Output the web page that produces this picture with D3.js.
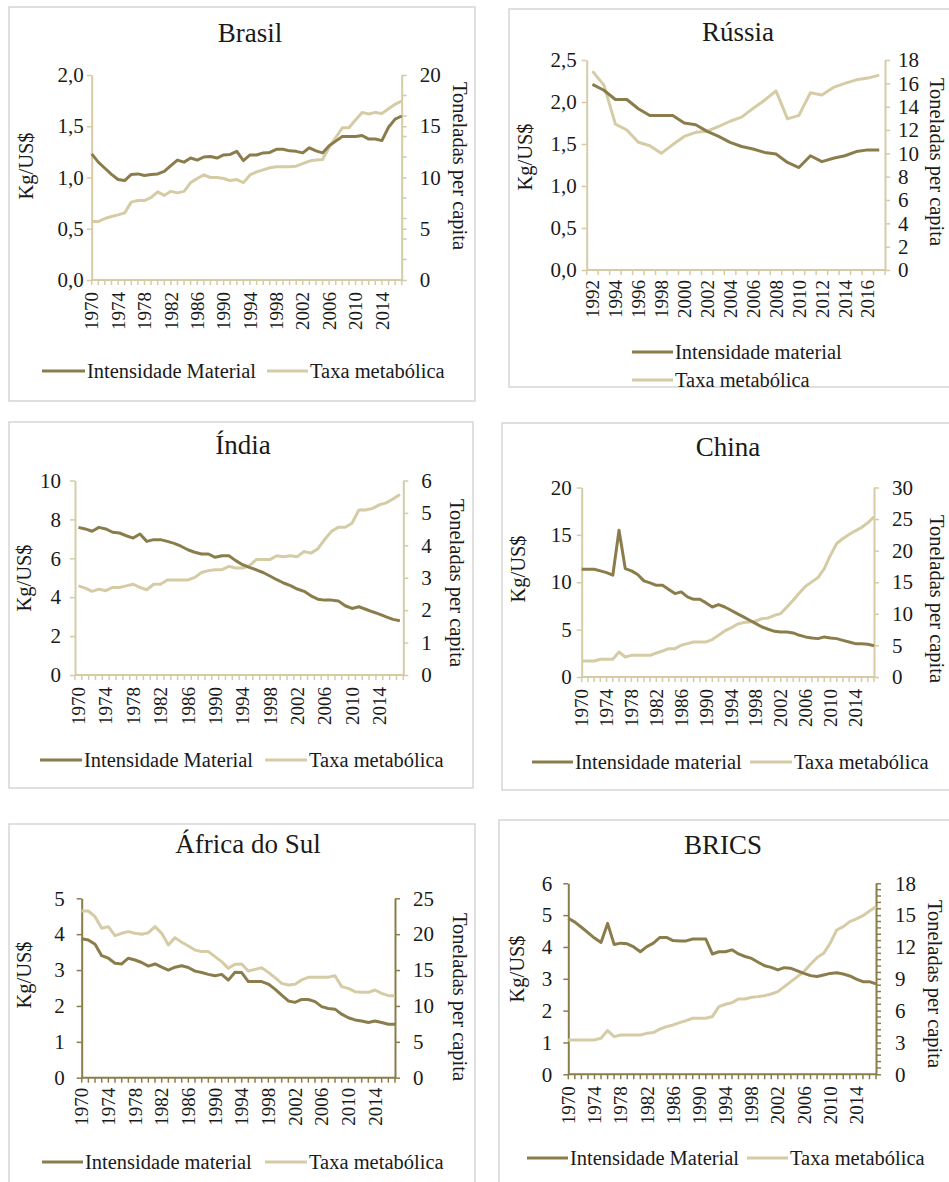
<!DOCTYPE html>
<html>
<head>
<meta charset="utf-8">
<script src="https://cdn.jsdelivr.net/npm/d3@7/dist/d3.min.js"></script>
<style>
  html, body { margin: 0; padding: 0; background: #fff; }
  svg { display: block; }
  text { font-family: "Liberation Serif", "Times New Roman", serif; fill: #1a1a1a; }
</style>
</head>
<body>
<script>
// ---------- data ----------
const years1970 = d3.range(1970, 2018);
const years1992 = d3.range(1992, 2018);

const brasilIntensidade = [1.23,1.15,1.09,1.03,0.98,0.97,1.03,1.035,1.02,1.03,1.035,1.06,1.115,1.17,1.15,1.19,1.17,1.20,1.205,1.19,1.22,1.225,1.255,1.165,1.22,1.22,1.24,1.245,1.275,1.275,1.26,1.255,1.24,1.29,1.26,1.24,1.31,1.355,1.40,1.40,1.40,1.41,1.375,1.375,1.36,1.49,1.57,1.60];
const brasilTaxa = [5.7,5.7,6.0,6.2,6.35,6.55,7.6,7.75,7.75,8.05,8.6,8.25,8.65,8.5,8.65,9.5,9.9,10.25,10.0,10.0,9.9,9.7,9.8,9.5,10.25,10.55,10.75,10.95,11.05,11.05,11.05,11.1,11.35,11.6,11.7,11.75,12.95,13.9,14.85,14.85,15.6,16.35,16.2,16.35,16.25,16.7,17.15,17.45];

const russiaIntensidade = [2.21,2.14,2.03,2.03,1.92,1.84,1.84,1.84,1.75,1.73,1.65,1.59,1.52,1.47,1.44,1.40,1.38,1.28,1.22,1.36,1.29,1.33,1.36,1.41,1.43,1.43];
const russiaTaxa = [17.05,15.85,12.5,12.0,10.95,10.65,10.0,10.75,11.45,11.8,11.9,12.3,12.75,13.1,13.85,14.55,15.35,12.95,13.25,15.2,15.0,15.65,16.0,16.3,16.45,16.7];

const indiaIntensidade = [7.59,7.51,7.39,7.59,7.51,7.34,7.30,7.16,7.04,7.25,6.87,6.96,6.96,6.87,6.77,6.62,6.44,6.31,6.22,6.22,6.05,6.13,6.13,5.88,5.67,5.53,5.41,5.27,5.09,4.90,4.73,4.59,4.42,4.30,4.07,3.90,3.85,3.85,3.81,3.56,3.42,3.51,3.38,3.25,3.13,2.99,2.86,2.79];
const indiaTaxa = [2.75,2.68,2.58,2.65,2.60,2.70,2.70,2.75,2.80,2.70,2.63,2.80,2.80,2.93,2.93,2.93,2.93,3.01,3.16,3.22,3.25,3.25,3.35,3.30,3.30,3.37,3.56,3.56,3.56,3.68,3.65,3.68,3.65,3.81,3.76,3.89,4.18,4.43,4.56,4.56,4.68,5.09,5.09,5.14,5.25,5.31,5.43,5.57];

const chinaIntensidade = [11.37,11.37,11.37,11.2,11.02,10.74,15.49,11.44,11.2,10.81,10.14,9.93,9.68,9.68,9.23,8.80,8.98,8.45,8.20,8.20,7.82,7.39,7.64,7.39,7.04,6.69,6.34,5.99,5.63,5.28,5.04,4.82,4.75,4.75,4.65,4.40,4.23,4.12,4.05,4.23,4.12,4.05,3.87,3.70,3.52,3.52,3.45,3.30];
const chinaTaxa = [2.54,2.54,2.54,2.80,2.80,2.80,3.96,3.17,3.43,3.43,3.43,3.43,3.80,4.12,4.49,4.49,5.02,5.28,5.55,5.55,5.55,5.92,6.60,7.29,7.77,8.35,8.61,8.72,8.87,9.24,9.35,9.77,10.04,11.09,12.15,13.31,14.37,15.06,15.74,17.17,19.28,21.13,21.92,22.56,23.14,23.67,24.41,25.36];

const africaIntensidade = [3.87,3.84,3.72,3.40,3.33,3.19,3.17,3.33,3.28,3.21,3.11,3.17,3.08,3.00,3.08,3.12,3.07,2.97,2.93,2.88,2.84,2.88,2.72,2.94,2.93,2.68,2.68,2.68,2.61,2.47,2.30,2.14,2.10,2.18,2.18,2.12,1.98,1.93,1.91,1.77,1.67,1.61,1.58,1.54,1.58,1.54,1.49,1.49];
const africaTaxa = [23.23,23.23,22.44,20.82,21.05,19.80,20.12,20.35,20.12,19.98,20.21,21.05,20.12,18.49,19.52,18.87,18.35,17.80,17.57,17.57,16.87,16.17,15.24,15.80,15.85,14.87,15.10,15.33,14.68,13.94,13.15,12.92,13.01,13.62,13.99,13.99,13.99,13.99,14.22,12.69,12.45,11.99,11.90,11.90,12.22,11.76,11.43,11.43];

const bricsIntensidade = [4.90,4.78,4.62,4.45,4.28,4.14,4.74,4.08,4.12,4.10,4.00,3.85,4.01,4.12,4.30,4.30,4.20,4.19,4.19,4.25,4.25,4.25,3.78,3.85,3.85,3.91,3.78,3.70,3.64,3.52,3.41,3.36,3.28,3.35,3.33,3.25,3.17,3.10,3.07,3.12,3.17,3.19,3.15,3.09,2.99,2.91,2.91,2.84];
const bricsTaxa = [3.24,3.24,3.24,3.24,3.24,3.40,4.12,3.55,3.71,3.71,3.71,3.71,3.86,3.93,4.27,4.49,4.65,4.87,5.06,5.28,5.28,5.28,5.44,6.38,6.60,6.75,7.10,7.10,7.26,7.32,7.41,7.57,7.79,8.26,8.73,9.21,9.68,10.37,11.0,11.40,12.35,13.60,13.92,14.39,14.64,14.95,15.39,15.80];

// axis tick values
const ticksBrasilLeft = [0, 0.5, 1.0, 1.5, 2.0];
const ticksBrasilRight = [0, 5, 10, 15, 20];
const ticksRussiaLeft = [0, 0.5, 1.0, 1.5, 2.0, 2.5];
const ticksRussiaRight = [0, 2, 4, 6, 8, 10, 12, 14, 16, 18];
const ticksIndiaLeft = [0, 2, 4, 6, 8, 10];
const ticksIndiaRight = [0, 1, 2, 3, 4, 5, 6];
const ticksChinaLeft = [0, 5, 10, 15, 20];
const ticksChinaRight = [0, 5, 10, 15, 20, 25, 30];
const ticksAfricaLeft = [0, 1, 2, 3, 4, 5];
const ticksAfricaRight = [0, 5, 10, 15, 20, 25];
const ticksBricsLeft = [0, 1, 2, 3, 4, 5, 6];
const ticksBricsRight = [0, 3, 6, 9, 12, 15, 18];

const labelYears1970 = [1970, 1974, 1978, 1982, 1986, 1990, 1994, 1998, 2002, 2006, 2010, 2014];
const labelYears1992 = [1992, 1994, 1996, 1998, 2000, 2002, 2004, 2006, 2008, 2010, 2012, 2014, 2016];

// ---------- styling ----------
const DARK = "#8b7d4b";
const LIGHT = "#d5cca6";
const FRAME = "#d6d6d6";
const SERIF = "'Liberation Serif', 'Times New Roman', serif";
const commaFmt = d => d3.format(".1f")(d).replace(".", ",");
const intFmt = d => String(d);

const svg = d3.select("body").append("svg")
  .attr("width", 949).attr("height", 1182);

function drawPanel(p) {
  const g = svg.append("g").style("font-family", SERIF);

  // frame
  g.append("rect")
    .attr("x", p.box[0]).attr("y", p.box[1])
    .attr("width", p.box[2] - p.box[0]).attr("height", p.box[3] - p.box[1])
    .attr("fill", "none").attr("stroke", FRAME).attr("stroke-width", 1.5);

  // scales
  let xPos, tickXs;
  if (p.band) {
    const xb = d3.scaleBand().domain(p.years).range([p.x0, p.x1]);
    xPos = d => xb(d) + xb.bandwidth() / 2;
    tickXs = p.years.map(d => xb(d)).concat([p.x1]);
  } else {
    const xp = d3.scalePoint().domain(p.years).range([p.x0, p.x1]);
    xPos = d => xp(d);
    tickXs = p.years.map(d => xp(d));
  }
  const yL = d3.scaleLinear().domain([p.leftTicks[0], p.leftTicks[p.leftTicks.length - 1]]).range([p.y1, p.y0]);
  const yR = d3.scaleLinear().domain([p.rightTicks[0], p.rightTicks[p.rightTicks.length - 1]]).range([p.y1, p.y0]);

  const ac = p.axisColor;

  // left and right value axes
  const gl = g.append("g").attr("transform", `translate(${p.x0},0)`)
    .call(d3.axisLeft(yL).tickValues(p.leftTicks).tickFormat(p.leftFmt)
      .tickSize(5).tickSizeOuter(0).tickPadding(p.leftPad));
  const gr = g.append("g").attr("transform", `translate(${p.x1},0)`)
    .call(d3.axisRight(yR).tickValues(p.rightTicks).tickFormat(intFmt)
      .tickSize(5).tickSizeOuter(0).tickPadding(p.rightPad));
  [gl, gr].forEach(a => {
    a.attr("font-family", null);
    a.select(".domain").attr("stroke", ac).attr("stroke-width", 2);
    a.selectAll(".tick line").attr("stroke", ac).attr("stroke-width", 1.5);
    a.selectAll(".tick text").attr("font-size", p.tickFont).attr("fill", "#1a1a1a")
      .style("font-family", SERIF);
  });
  if (p.rightMinor) {
    g.append("g").selectAll("line").data(p.rightMinor).join("line")
      .attr("x1", p.x1).attr("x2", p.x1 + 5)
      .attr("y1", d => yR(d)).attr("y2", d => yR(d))
      .attr("stroke", ac).attr("stroke-width", 1.5);
  }

  // category axis
  g.append("line").attr("x1", p.x0).attr("x2", p.x1).attr("y1", p.y1).attr("y2", p.y1)
    .attr("stroke", ac).attr("stroke-width", 2);
  g.append("g").selectAll("line").data(tickXs).join("line")
    .attr("x1", d => d).attr("x2", d => d).attr("y1", p.y1).attr("y2", p.y1 + 5)
    .attr("stroke", ac).attr("stroke-width", 1.5);
  g.append("g").selectAll("text").data(p.labelYears).join("text")
    .attr("transform", d => `translate(${xPos(d)},${p.y1 + p.xLabelOff}) rotate(-90)`)
    .attr("text-anchor", "end").attr("dy", "0.35em")
    .attr("font-size", p.xFont)
    .style("font-family", SERIF)
    .text(d => d);

  // series
  const lineL = d3.line().x((d, i) => xPos(p.years[i])).y(d => yL(d));
  const lineR = d3.line().x((d, i) => xPos(p.years[i])).y(d => yR(d));
  g.append("path").datum(p.taxa).attr("d", lineR)
    .attr("fill", "none").attr("stroke", LIGHT).attr("stroke-width", 3).attr("stroke-linejoin", "round");
  g.append("path").datum(p.intensidade).attr("d", lineL)
    .attr("fill", "none").attr("stroke", DARK).attr("stroke-width", 3).attr("stroke-linejoin", "round");

  // title
  g.append("text").attr("x", p.titleX).attr("y", p.titleY)
    .attr("text-anchor", "middle").attr("font-size", p.titleFont)
    .style("font-family", SERIF).text(p.title);

  // axis titles
  g.append("text").attr("transform", `translate(${p.leftTitle[0]},${p.leftTitle[1]}) rotate(-90)`)
    .attr("text-anchor", "middle").attr("dy", "0.35em").attr("font-size", p.axisFont)
    .style("font-family", SERIF).text("Kg/US$");
  g.append("text").attr("transform", `translate(${p.rightTitle[0]},${p.rightTitle[1]}) rotate(90)`)
    .attr("text-anchor", "middle").attr("dy", "0.35em").attr("font-size", p.axisFont)
    .style("font-family", SERIF).text("Toneladas per capita");

  // legend
  const items = [
    { label: p.legendDark, color: DARK, pos: p.legend[0] },
    { label: "Taxa metabólica", color: LIGHT, pos: p.legend[1] }
  ];
  items.forEach(it => {
    const [lx1, lx2, ly] = it.pos;
    g.append("line").attr("x1", lx1).attr("x2", lx2).attr("y1", ly).attr("y2", ly)
      .attr("stroke", it.color).attr("stroke-width", 3);
    g.append("text").attr("x", lx2 + 2).attr("y", ly).attr("dy", "0.35em")
      .attr("font-size", p.legendFont).style("font-family", SERIF).text(it.label);
  });
}

const common = { tickFont: 21, xFont: 19, titleFont: 27, axisFont: 20.5, legendFont: 20.5 };

drawPanel(Object.assign({}, common, {
  title: "Brasil", titleX: 250, titleY: 42,
  box: [9, 7, 475, 401],
  x0: 91.7, x1: 401.7, y0: 75, y1: 280, band: false,
  years: years1970, labelYears: labelYears1970,
  intensidade: brasilIntensidade, taxa: brasilTaxa,
  leftTicks: ticksBrasilLeft, leftFmt: commaFmt, leftPad: 3,
  rightTicks: ticksBrasilRight, rightPad: 13, rightMinor: [2, 4, 6, 8, 12, 14, 16, 18],
  axisColor: LIGHT, xLabelOff: 12,
  leftTitle: [26, 166], rightTitle: [460, 166],
  legendDark: "Intensidade Material",
  legend: [[42, 85, 371], [267, 308, 371]]
}));

drawPanel(Object.assign({}, common, {
  title: "Rússia", titleX: 738, titleY: 41,
  box: [509, 9, 960, 387],
  x0: 586.7, x1: 885, y0: 60, y1: 270, band: true,
  years: years1992, labelYears: labelYears1992,
  intensidade: russiaIntensidade, taxa: russiaTaxa,
  leftTicks: ticksRussiaLeft, leftFmt: commaFmt, leftPad: 5,
  rightTicks: ticksRussiaRight, rightPad: 8,
  axisColor: LIGHT, xLabelOff: 10,
  leftTitle: [525, 157], rightTitle: [937, 162],
  legendDark: "Intensidade material",
  legend: [[632, 673, 352], [632, 673, 380]]
}));

drawPanel(Object.assign({}, common, {
  title: "Índia", titleX: 243, titleY: 454,
  box: [9, 422, 473, 788],
  x0: 75, x1: 403.3, y0: 480.5, y1: 675, band: true,
  years: years1970, labelYears: labelYears1970,
  intensidade: indiaIntensidade, taxa: indiaTaxa,
  leftTicks: ticksIndiaLeft, leftFmt: intFmt, leftPad: 9,
  rightTicks: ticksIndiaRight, rightPad: 13,
  axisColor: LIGHT, xLabelOff: 12,
  leftTitle: [24, 578], rightTitle: [457, 583],
  legendDark: "Intensidade Material",
  legend: [[40, 82, 760], [265, 307, 760]]
}));

drawPanel(Object.assign({}, common, {
  title: "China", titleX: 728, titleY: 456,
  box: [502, 423, 960, 790],
  x0: 581.7, x1: 874, y0: 487.5, y1: 677, band: false,
  years: years1970, labelYears: labelYears1970,
  intensidade: chinaIntensidade, taxa: chinaTaxa,
  leftTicks: ticksChinaLeft, leftFmt: intFmt, leftPad: 5,
  rightTicks: ticksChinaRight, rightPad: 13,
  axisColor: LIGHT, xLabelOff: 12,
  leftTitle: [518, 569], rightTitle: [937, 599],
  legendDark: "Intensidade material",
  legend: [[532, 573, 762], [750, 792, 762]]
}));

drawPanel(Object.assign({}, common, {
  title: "África do Sul", titleX: 248, titleY: 853,
  box: [9, 824, 475, 1200],
  x0: 81.7, x1: 395, y0: 898.3, y1: 1077.7, band: false,
  years: years1970, labelYears: labelYears1970,
  intensidade: africaIntensidade, taxa: africaTaxa,
  leftTicks: ticksAfricaLeft, leftFmt: intFmt, leftPad: 12,
  rightTicks: ticksAfricaRight, rightPad: 13,
  axisColor: DARK, xLabelOff: 10,
  leftTitle: [24, 975], rightTitle: [460, 997],
  legendDark: "Intensidade material",
  legend: [[42, 83, 1162], [265, 307, 1162]]
}));

drawPanel(Object.assign({}, common, {
  title: "BRICS", titleX: 723, titleY: 854,
  box: [499, 820, 960, 1200],
  x0: 568.3, x1: 876, y0: 883.3, y1: 1074.3, band: false,
  years: years1970, labelYears: labelYears1970,
  intensidade: bricsIntensidade, taxa: bricsTaxa,
  leftTicks: ticksBricsLeft, leftFmt: intFmt, leftPad: 11,
  rightTicks: ticksBricsRight, rightPad: 14,
  rightMinor: d3.range(0, 18.01, 0.6).filter(v => Math.abs(v / 3 - Math.round(v / 3)) > 1e-6),
  axisColor: DARK, xLabelOff: 12,
  leftTitle: [517, 969], rightTitle: [935, 984],
  legendDark: "Intensidade Material",
  legend: [[527, 568, 1158], [747, 788, 1158]]
}));
</script>
</body>
</html>
